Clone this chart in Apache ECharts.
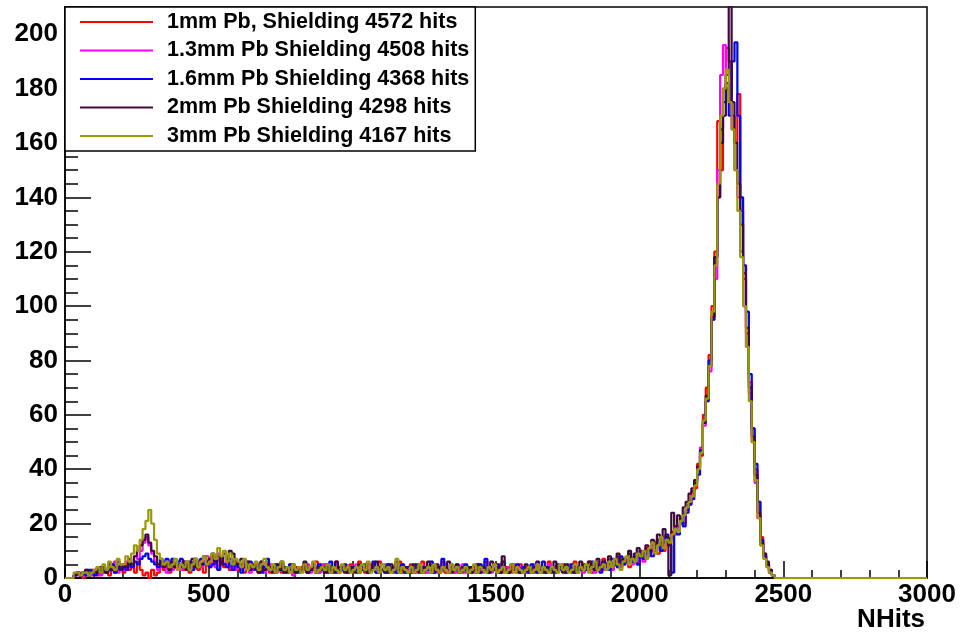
<!DOCTYPE html>
<html>
<head>
<meta charset="utf-8">
<script src="https://cdn.jsdelivr.net/npm/echarts@6.0.0/dist/echarts.min.js"></script>
<style>
  html, body { margin: 0; padding: 0; background: #fff; }
  #chart { width: 979px; height: 635px; }
</style>
</head>
<body>
<div id="chart"></div>
<script>
// histogram binning (NHits), bins start at 0
const BIN_W = 10;
const X_END = 3000;

const names = [
  '1mm Pb, Shielding 4572 hits',
  '1.3mm Pb Shielding 4508 hits',
  '1.6mm Pb Shielding 4368 hits',
  '2mm Pb Shielding 4298 hits',
  '3mm Pb Shielding 4167 hits'
];
const colors = ['#ff0000', '#ff00ff', '#0000ff', '#3d0a3d', '#999900'];

// bin contents, one row = 200 NHits
const pb1mm = [
  0,0,0,1,2,1,0,2,1,3,2,1,4,2,3,1,5,2,3,4,
  2,5,3,4,2,6,3,1,2,0,3,1,2,4,3,5,2,6,4,3,
  5,3,6,2,4,7,3,5,2,6,4,8,5,3,7,4,6,3,5,4,
  3,5,2,6,4,3,5,2,4,3,6,2,4,5,3,2,4,3,5,2,
  4,2,3,5,2,4,3,6,2,3,5,2,4,3,6,2,3,4,2,5,
  2,4,6,3,2,5,3,4,2,6,3,2,5,4,2,3,6,2,4,3,
  5,2,3,4,6,2,3,5,2,4,3,6,2,3,4,2,5,3,2,4,
  3,2,4,5,2,3,6,2,4,3,2,5,3,4,2,3,4,2,5,3,
  2,4,3,2,5,3,4,2,6,3,2,4,3,5,2,4,3,6,2,3,
  4,3,6,2,5,4,3,7,4,5,3,6,8,4,5,7,4,6,8,5,
  9,7,11,8,10,13,9,12,10,15,14,17,16,19,22,20,25,27,32,33,
  42,45,60,70,82,100,120,168,150,180,195,190,170,160,178,135,110,90,72,55,
  40,28,15,9,5,2,1,0
];
const pb13mm = [
  0,0,0,1,1,2,1,3,2,1,2,4,1,3,2,5,3,6,2,4,
  3,6,4,5,8,7,10,13,15,12,9,6,3,5,4,2,6,3,5,4,
  3,6,4,5,3,7,5,4,6,8,5,7,4,9,6,5,8,4,6,3,
  5,3,6,4,2,5,3,4,6,2,3,5,4,2,3,5,2,4,3,1,
  3,2,4,3,5,2,3,4,2,5,3,4,2,3,5,2,4,3,2,4,
  3,5,2,4,3,2,5,3,4,2,3,5,2,4,3,2,4,5,2,3,
  4,3,2,5,3,4,2,3,5,2,4,3,5,2,3,4,2,3,5,2,
  3,4,2,3,5,2,4,3,2,5,3,4,2,3,4,2,5,3,4,2,
  4,2,3,5,2,4,3,2,5,3,4,2,3,4,2,5,3,2,4,3,
  2,4,3,5,2,6,4,3,5,7,3,5,4,6,5,7,6,5,8,6,
  8,6,10,9,12,10,13,11,15,12,14,16,19,17,20,23,25,28,30,36,
  40,48,56,65,76,95,110,150,185,196,180,175,165,150,140,120,100,85,68,50,
  35,22,12,8,5,3,1,0
];
const pb16mm = [
  0,0,0,1,2,1,2,1,3,2,1,3,2,4,2,3,5,2,4,3,
  4,3,5,4,6,5,7,8,9,7,6,5,4,7,6,7,5,7,4,6,
  7,5,4,6,3,5,4,7,5,6,4,5,7,3,6,5,4,7,3,5,
  4,2,5,3,6,4,3,5,2,4,7,3,4,2,5,3,4,2,5,3,
  2,4,3,5,2,3,4,2,5,3,4,2,6,3,2,4,3,5,2,3,
  4,3,2,4,5,2,3,6,2,4,3,2,5,3,4,2,3,5,2,4,
  3,2,5,3,2,4,3,6,2,3,4,7,3,2,5,3,4,2,3,5,
  2,4,3,2,5,3,7,2,4,3,5,2,6,3,2,4,3,5,2,4,
  3,2,5,4,2,3,6,2,4,3,2,5,3,4,2,3,5,2,4,3,
  5,3,4,6,3,5,2,6,4,3,7,5,4,8,5,6,9,6,8,5,
  10,7,9,11,8,12,14,10,13,16,12,2,18,16,21,19,24,27,29,35,
  38,47,58,65,80,95,118,140,165,175,182,170,190,197,170,140,115,98,75,55,
  42,28,14,8,5,2,1,0
];
const pb2mm = [
  0,0,0,1,2,1,2,3,1,2,3,2,4,3,2,5,3,4,6,3,
  5,4,7,5,8,10,12,14,16,13,10,8,5,6,4,5,3,6,4,5,
  4,6,3,5,7,4,6,5,8,6,7,9,6,8,5,9,7,10,9,6,
  5,7,4,6,3,5,4,2,6,3,5,4,2,5,3,6,2,4,3,5,
  2,4,3,6,2,3,5,2,4,3,2,5,3,2,6,3,4,2,3,4,
  3,2,5,3,4,2,3,5,6,2,3,4,2,5,3,6,2,3,4,2,
  2,5,3,2,4,3,6,2,3,5,2,4,3,6,2,3,5,2,4,3,
  4,2,3,5,2,4,3,2,6,3,4,2,8,3,2,5,3,4,2,3,
  5,3,2,4,6,3,2,4,3,2,6,3,4,2,5,3,2,4,3,6,
  3,4,6,5,3,7,4,6,5,8,4,6,9,5,7,6,10,7,9,11,
  8,9,12,10,14,11,16,13,18,15,1,24,19,23,21,26,28,31,33,36,
  41,46,57,67,78,96,118,140,160,170,185,215,175,160,145,130,112,92,70,52,
  38,24,13,9,6,3,1,0
];
const pb3mm = [
  0,0,0,2,2,1,2,2,1,2,3,4,2,5,3,6,4,3,7,5,
  5,8,6,9,12,10,14,18,21,25,20,14,9,7,5,6,4,5,7,3,
  5,4,6,3,5,7,4,6,8,5,6,9,7,11,8,10,6,9,5,7,
  6,4,7,3,5,4,6,3,5,7,4,3,5,2,4,6,3,4,2,5,
  3,4,2,5,3,4,6,2,3,4,3,5,2,4,3,2,5,3,4,2,
  3,4,2,5,3,6,2,3,4,2,5,3,4,2,3,7,2,4,3,2,
  4,2,3,5,2,3,4,2,5,3,2,4,3,2,5,3,4,2,3,4,
  2,3,5,2,4,3,2,4,3,5,2,3,4,2,3,5,2,4,3,2,
  3,4,2,3,5,2,4,3,2,4,3,2,5,3,4,2,3,5,2,4,
  3,5,2,4,6,3,4,5,3,6,4,7,5,3,6,8,5,7,6,9,
  8,10,7,11,13,9,12,15,11,14,13,16,18,17,21,23,26,28,30,34,
  40,46,58,66,78,98,115,145,170,180,187,175,165,150,135,118,100,85,65,50,
  36,22,12,7,4,2,1,0
];
const hists = [pb1mm, pb13mm, pb16mm, pb2mm, pb3mm];

const FONT = '"Liberation Sans", Arial, Helvetica, sans-serif';

function toSteps(vals) {
  return vals.map((v, i) => [i * BIN_W, v]).concat([[X_END, 0]]);
}

const chart = echarts.init(document.getElementById('chart'));
const black = { color: '#000', width: 1.5 };
const labelStyle = { fontFamily: FONT, fontSize: 26, fontWeight: 'bold', color: '#000', formatter: v => String(v) };

chart.setOption({
  animation: false,
  backgroundColor: '#fff',
  grid: { left: 65, right: 52, top: 7, bottom: 57, show: true, borderColor: '#000', borderWidth: 1.5 },
  title: {
    text: 'NHits', right: 54, top: 607, padding: 0,
    textStyle: { fontFamily: FONT, fontSize: 26, fontWeight: 'bold', color: '#000' }
  },
  legend: {
    orient: 'vertical', left: 65, top: 7, padding: [4, 6, 4, 15], itemGap: 6.5,
    itemWidth: 73, itemHeight: 2, icon: 'rect',
    backgroundColor: '#fff', borderColor: '#000', borderWidth: 1.5, borderRadius: 0,
    textStyle: { fontFamily: FONT, fontSize: 21.5, fontWeight: 'bold', color: '#000', lineHeight: 22, padding: [0, 0, 0, 9] },
    data: names
  },
  xAxis: {
    type: 'value', min: 0, max: X_END, interval: 500,
    axisLine: { lineStyle: black },
    axisTick: { inside: true, length: 17, lineStyle: black },
    minorTick: { show: true, splitNumber: 5, length: 8, lineStyle: black },
    splitLine: { show: false },
    axisLabel: Object.assign({ margin: 4 }, labelStyle)
  },
  yAxis: {
    type: 'value', min: 0, max: 210, interval: 20,
    axisLine: { show: true, lineStyle: black },
    axisTick: { show: true, inside: true, length: 26, lineStyle: black },
    minorTick: { show: true, splitNumber: 4, length: 13, lineStyle: black },
    splitLine: { show: false },
    axisLabel: Object.assign({ margin: 7, showMaxLabel: false }, labelStyle)
  },
  series: hists.map((h, k) => ({
    name: names[k],
    type: 'line',
    step: 'end',
    symbol: 'none',
    data: toSteps(h),
    itemStyle: { color: colors[k] },
    lineStyle: { color: colors[k], width: 2.2 }
  }))
});
</script>
</body>
</html>
